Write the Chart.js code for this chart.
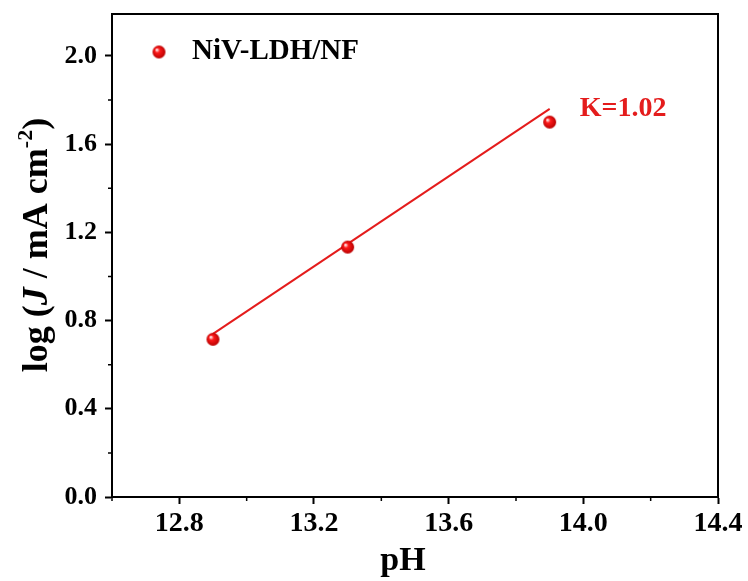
<!DOCTYPE html>
<html>
<head>
<meta charset="utf-8">
<script src="https://cdn.jsdelivr.net/npm/chart.js@4.4.0/dist/chart.umd.min.js"></script>
<style>
  html, body { margin: 0; padding: 0; background: #fff; }
</style>
</head>
<body>
<canvas id="myChart" width="748" height="581"></canvas>
<script>
// data
const phValues = [12.9, 13.3, 13.9];
const logJ = [0.715, 1.133, 1.70];
const fitX = [12.9, 13.9];
const fitY = [0.74, 1.76];
const seriesName = "NiV-LDH/NF";
const slopeText = "K=1.02";

const xTicks = [12.6, 12.8, 13.0, 13.2, 13.4, 13.6, 13.8, 14.0, 14.2, 14.4];
const xLabels = ["12.8", "13.2", "13.6", "14.0", "14.4"];
const yTicks = [0.0, 0.2, 0.4, 0.6, 0.8, 1.0, 1.2, 1.4, 1.6, 1.8, 2.0];
const yLabels = ["0.0", "0.4", "0.8", "1.2", "1.6", "2.0"];

const FONT = '"Liberation Serif", "Times New Roman", serif';
const RED = "rgb(228, 28, 28)";

function isMajor(value, labels) {
  return labels.indexOf(Number(value).toFixed(1)) >= 0;
}

// little red ball used for the points
function makeSphere(r) {
  const s = Math.ceil(r * 2 + 2);
  const c = document.createElement("canvas");
  c.width = s; c.height = s;
  const g = c.getContext("2d");
  const grad = g.createRadialGradient(s / 2 - r * 0.35, s / 2 - r * 0.35, r * 0.1, s / 2, s / 2, r);
  grad.addColorStop(0, "#ffe6e6");
  grad.addColorStop(0.3, "#ff1a1a");
  grad.addColorStop(1, "#b80000");
  g.fillStyle = grad;
  g.beginPath();
  g.arc(s / 2, s / 2, r, 0, Math.PI * 2);
  g.fill();
  return c;
}
const ball = makeSphere(6.5);

const framePlugin = {
  id: "frame",
  afterDraw(chart) {
    const { ctx, chartArea: a, scales } = chart;
    ctx.save();
    ctx.strokeStyle = "#000";
    ctx.lineWidth = 2;
    ctx.beginPath();
    ctx.moveTo(a.left, a.top);
    ctx.lineTo(a.right, a.top);
    ctx.lineTo(a.right, a.bottom);
    ctx.stroke();

    // minor ticks (shorter)
    ctx.lineWidth = 1.5;
    ctx.beginPath();
    xTicks.forEach(v => {
      if (isMajor(v, xLabels)) return;
      const px = scales.x.getPixelForValue(v);
      ctx.moveTo(px, a.bottom);
      ctx.lineTo(px, a.bottom + 4);
    });
    yTicks.forEach(v => {
      if (isMajor(v, yLabels)) return;
      const py = scales.y.getPixelForValue(v);
      ctx.moveTo(a.left, py);
      ctx.lineTo(a.left - 4, py);
    });
    ctx.stroke();

    // legend inside the plot
    const lx = a.left + 47, ly = a.top + 38;
    ctx.drawImage(ball, lx - ball.width / 2, ly - ball.height / 2);
    ctx.fillStyle = "#000";
    ctx.font = "bold 29px " + FONT;
    ctx.textBaseline = "middle";
    ctx.textAlign = "left";
    ctx.fillText(seriesName, lx + 33, ly);

    // slope label next to the fit line
    ctx.fillStyle = RED;
    ctx.font = "bold 28px " + FONT;
    ctx.fillText(slopeText, scales.x.getPixelForValue(fitX[1]) + 30, scales.y.getPixelForValue(fitY[1]));

    // x axis title
    ctx.fillStyle = "#000";
    ctx.font = "bold 34px " + FONT;
    ctx.textAlign = "center";
    ctx.fillText("pH", 403, 561);

    // y axis title with italic J and superscript
    const parts = [
      { t: "log (", f: "bold 36px " + FONT, dy: 0 },
      { t: "J", f: "italic bold 36px " + FONT, dy: 0 },
      { t: " / mA cm", f: "bold 36px " + FONT, dy: 0 },
      { t: "-2", f: "bold 22px " + FONT, dy: -15 },
      { t: ")", f: "bold 36px " + FONT, dy: 0 }
    ];
    let total = 0;
    parts.forEach(p => { ctx.font = p.f; p.w = ctx.measureText(p.t).width; total += p.w; });
    ctx.translate(47, 245);
    ctx.rotate(-Math.PI / 2);
    ctx.textAlign = "left";
    ctx.textBaseline = "alphabetic";
    let x = -total / 2;
    parts.forEach(p => { ctx.font = p.f; ctx.fillText(p.t, x, p.dy); x += p.w; });
    ctx.restore();
  }
};

const ctx = document.getElementById("myChart").getContext("2d");
new Chart(ctx, {
  type: "scatter",
  data: {
    datasets: [
      {
        label: seriesName,
        data: phValues.map((v, i) => ({ x: v, y: logJ[i] })),
        pointStyle: ball,
        pointRadius: 7,
        pointHoverRadius: 7
      },
      {
        label: "fit",
        data: fitX.map((v, i) => ({ x: v, y: fitY[i] })),
        showLine: true,
        borderColor: RED,
        borderWidth: 2,
        pointRadius: 0,
        fill: false
      }
    ]
  },
  options: {
    responsive: false,
    animation: false,
    devicePixelRatio: 1,
    layout: { padding: { top: 14, right: 30, left: 0, bottom: 0 } },
    plugins: {
      legend: { display: false },
      tooltip: { enabled: false }
    },
    scales: {
      x: {
        type: "linear",
        min: 12.6,
        max: 14.4,
        afterBuildTicks: scale => { scale.ticks = xTicks.map(v => ({ value: v })); },
        afterFit: scale => { scale.height = 84; scale.paddingLeft = 0; scale.paddingRight = 0; },
        grid: {
          drawOnChartArea: false,
          tickLength: 7,
          tickWidth: 2,
          tickColor: c => isMajor(c.tick.value, xLabels) ? "#000" : "transparent"
        },
        border: { color: "#000", width: 2 },
        ticks: {
          color: "#000",
          padding: 3,
          maxRotation: 0,
          autoSkip: false,
          font: { family: FONT, size: 28, weight: "bold" },
          callback: v => isMajor(v, xLabels) ? Number(v).toFixed(1) : ""
        }
      },
      y: {
        type: "linear",
        min: 0,
        max: 2.19,
        afterBuildTicks: scale => { scale.ticks = yTicks.map(v => ({ value: v })); },
        afterFit: scale => { scale.width = 112; scale.paddingTop = 0; scale.paddingBottom = 0; },
        grid: {
          drawOnChartArea: false,
          tickLength: 7,
          tickWidth: 2,
          tickColor: c => isMajor(c.tick.value, yLabels) ? "#000" : "transparent"
        },
        border: { color: "#000", width: 2 },
        ticks: {
          color: "#000",
          padding: 8,
          autoSkip: false,
          font: { family: FONT, size: 26, weight: "bold" },
          callback: v => isMajor(v, yLabels) ? Number(v).toFixed(1) : ""
        }
      }
    }
  },
  plugins: [framePlugin]
});
</script>
</body>
</html>
